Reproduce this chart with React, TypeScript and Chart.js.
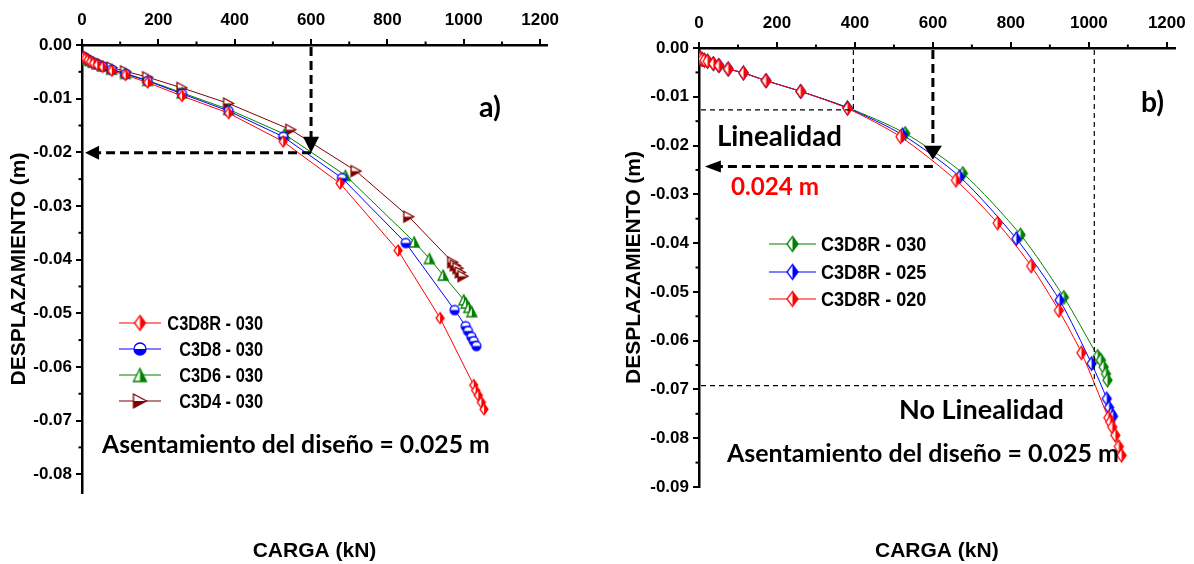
import React, { useEffect, useRef } from 'react';
import { Chart, registerables } from 'chart.js';

Chart.register(...registerables);

// ---------- shared ticks ----------
const xTickValues = [0, 200, 400, 600, 800, 1000, 1200];
const yTickValuesA = [0, -0.01, -0.02, -0.03, -0.04, -0.05, -0.06, -0.07, -0.08];
const yTickValuesB = [0, -0.01, -0.02, -0.03, -0.04, -0.05, -0.06, -0.07, -0.08, -0.09];

const xTitle = 'CARGA (kN)';
const yTitle = 'DESPLAZAMIENTO (m)';

// ---------- panel a) ----------
const seriesNamesA = ['C3D8R - 030', 'C3D8 - 030', 'C3D6 - 030', 'C3D4 - 030'];
const loadA_C3D8R = [4, 9, 15, 22, 30, 40, 54, 78, 114, 172, 262, 384, 527, 676, 828, 938, 1026, 1031, 1038, 1046, 1053];
const dispA_C3D8R = [-0.0023, -0.0025, -0.0028, -0.0031, -0.0034, -0.0037, -0.0041, -0.0048, -0.0056, -0.0070, -0.0095, -0.0127, -0.0180, -0.0258, -0.0383, -0.0509, -0.0634, -0.0644, -0.0653, -0.0666, -0.0679];
const loadA_C3D8 = [4, 9, 15, 22, 30, 40, 54, 78, 114, 172, 262, 384, 527, 681, 848, 976, 1005, 1011, 1020, 1026, 1033];
const dispA_C3D8 = [-0.0022, -0.0024, -0.0027, -0.0030, -0.0033, -0.0036, -0.0040, -0.0046, -0.0054, -0.0067, -0.0091, -0.0123, -0.0171, -0.0248, -0.0369, -0.0494, -0.0524, -0.0533, -0.0544, -0.0552, -0.0561];
const loadA_C3D6 = [4, 9, 15, 22, 30, 40, 54, 78, 114, 172, 262, 384, 530, 690, 870, 910, 946, 1000, 1006, 1013, 1021];
const dispA_C3D6 = [-0.0022, -0.0024, -0.0027, -0.0029, -0.0032, -0.0035, -0.0039, -0.0045, -0.0053, -0.0066, -0.0089, -0.0120, -0.0166, -0.0243, -0.0367, -0.0398, -0.0429, -0.0475, -0.0481, -0.0489, -0.0497];
const loadA_C3D4 = [4, 9, 15, 22, 30, 40, 54, 78, 114, 172, 262, 384, 547, 718, 856, 971, 978, 985, 991, 998];
const dispA_C3D4 = [-0.0020, -0.0022, -0.0025, -0.0027, -0.0030, -0.0033, -0.0036, -0.0042, -0.0049, -0.0060, -0.0080, -0.0109, -0.0158, -0.0235, -0.0320, -0.0405, -0.0411, -0.0416, -0.0424, -0.0431];

// ---------- panel b) ----------
const seriesNamesB = ['C3D8R - 030', 'C3D8R - 025', 'C3D8R - 020'];
const loadB_030 = [3, 8, 14, 22, 37, 51, 75, 114, 172, 261, 381, 529, 677, 825, 936, 1023, 1031, 1038, 1044, 1048];
const dispB_030 = [-0.0021, -0.0023, -0.0025, -0.0027, -0.0032, -0.0036, -0.0043, -0.0051, -0.0067, -0.0089, -0.0122, -0.0175, -0.0257, -0.0383, -0.0511, -0.0632, -0.0640, -0.0654, -0.0668, -0.0681];
const loadB_025 = [3, 8, 14, 22, 37, 51, 75, 114, 172, 261, 381, 522, 669, 814, 925, 1007, 1046, 1052, 1058, 1062];
const dispB_025 = [-0.0021, -0.0023, -0.0025, -0.0027, -0.0032, -0.0036, -0.0043, -0.0051, -0.0067, -0.0089, -0.0123, -0.0178, -0.0264, -0.0391, -0.0517, -0.0647, -0.0719, -0.0737, -0.0750, -0.0755];
const loadB_020 = [3, 8, 14, 22, 37, 51, 75, 114, 172, 261, 381, 517, 659, 766, 852, 923, 981, 1050, 1055, 1060, 1068, 1077, 1084];
const dispB_020 = [-0.0021, -0.0023, -0.0025, -0.0027, -0.0032, -0.0036, -0.0043, -0.0051, -0.0067, -0.0089, -0.0124, -0.0182, -0.0271, -0.0359, -0.0447, -0.0538, -0.0625, -0.0758, -0.0767, -0.0777, -0.0794, -0.0817, -0.0835];

// ---------- annotation values ----------
const designLoad = 600;
const designDispA = -0.0201;
const designArrowTipB = -0.0229;
const designDispB = -0.0243;
const linearLimitLoadB = 396;
const linearLimitDispB = -0.0127;
const nonLinearLoadB = 1014;
const nonLinearDispB = -0.0692;
const designText = 'Asentamiento del diseño = 0.025 m';
const linearText = 'Linealidad';
const nonLinearText = 'No Linealidad';
const readText = '0.024 m';

const NARROW = '"Liberation Sans Narrow", "Arial Narrow", "Liberation Sans", sans-serif';
const SANS = '"Liberation Sans", Arial, sans-serif';
const CAL = 'Lato, "Open Sans", sans-serif';

function makeMarker(shape: string, half: string, color: string, w: number, h: number) {
  const c = document.createElement('canvas');
  const pad = 2;
  c.width = Math.ceil(w + pad * 2);
  c.height = Math.ceil(h + pad * 2);
  const ctx = c.getContext('2d')!;
  ctx.translate(c.width / 2, c.height / 2);
  const p = new Path2D();
  if (shape === 'diamond') {
    p.moveTo(0, -h / 2); p.lineTo(w / 2, 0); p.lineTo(0, h / 2); p.lineTo(-w / 2, 0); p.closePath();
  } else if (shape === 'circle') {
    p.arc(0, 0, w / 2, 0, Math.PI * 2);
  } else if (shape === 'triUp') {
    p.moveTo(0, -h / 2); p.lineTo(w / 2, h / 2); p.lineTo(-w / 2, h / 2); p.closePath();
  } else {
    p.moveTo(w / 2, 0); p.lineTo(-w / 2, h / 2); p.lineTo(-w / 2, -h / 2); p.closePath();
  }
  ctx.fillStyle = '#ffffff';
  ctx.fill(p);
  ctx.save();
  ctx.clip(p);
  ctx.fillStyle = color;
  if (half === 'right') ctx.fillRect(0, -h, w, 2 * h);
  else ctx.fillRect(-w, 0, 2 * w, h);
  ctx.restore();
  ctx.strokeStyle = color;
  ctx.lineWidth = 1.3;
  ctx.stroke(p);
  return c;
}

function toPoints(xs: number[], ys: number[]) {
  return xs.map((x, i) => ({ x, y: ys[i] }));
}

function dashed(ctx: any, x1: number, y1: number, x2: number, y2: number, lw: number, dash: number[]) {
  ctx.save();
  ctx.strokeStyle = '#000';
  ctx.lineWidth = lw;
  ctx.setLineDash(dash);
  ctx.beginPath();
  ctx.moveTo(x1, y1);
  ctx.lineTo(x2, y2);
  ctx.stroke();
  ctx.restore();
}

function arrowHead(ctx: any, tx: number, ty: number, dir: string, len: number, half: number) {
  ctx.save();
  ctx.fillStyle = '#000';
  ctx.beginPath();
  ctx.moveTo(tx, ty);
  if (dir === 'down') { ctx.lineTo(tx - half, ty - len); ctx.lineTo(tx + half, ty - len); }
  else { ctx.lineTo(tx + len, ty - half); ctx.lineTo(tx + len, ty + half); }
  ctx.closePath();
  ctx.fill();
  ctx.restore();
}

function fitText(ctx: any, text: string, x: number, y: number, width: number, family: string, color: string, align = 'left') {
  ctx.save();
  ctx.font = `bold 100px ${family}`;
  const w = ctx.measureText(text).width;
  const size = (100 * width) / w;
  ctx.font = `bold ${size}px ${family}`;
  ctx.fillStyle = color;
  ctx.textAlign = align;
  ctx.textBaseline = 'middle';
  ctx.fillText(text, x, y);
  ctx.restore();
}

function drawMinorTicks(chart: any, yTicks: number[]) {
  const { ctx, chartArea, scales } = chart;
  ctx.save();
  ctx.strokeStyle = '#000';
  ctx.lineWidth = 2;
  for (let i = 0; i < xTickValues.length - 1; i++) {
    const px = scales.x.getPixelForValue((xTickValues[i] + xTickValues[i + 1]) / 2);
    ctx.beginPath(); ctx.moveTo(px, chartArea.top); ctx.lineTo(px, chartArea.top - 3.5); ctx.stroke();
  }
  for (let i = 0; i < yTicks.length - 1; i++) {
    const py = scales.y.getPixelForValue((yTicks[i] + yTicks[i + 1]) / 2);
    ctx.beginPath(); ctx.moveTo(chartArea.left, py); ctx.lineTo(chartArea.left - 3.5, py); ctx.stroke();
  }
  ctx.restore();
}

// legend text is drawn condensed (the original uses a narrow bold face)
function drawLegend(ctx: any, entries: any[], x1: number, x2: number, ys: number[], textX: number, align: string, size: number, squeeze: number) {
  entries.forEach((e, i) => {
    const y = ys[i];
    ctx.save();
    ctx.strokeStyle = e.color;
    ctx.lineWidth = 1.2;
    ctx.beginPath(); ctx.moveTo(x1, y); ctx.lineTo(x2, y); ctx.stroke();
    const m = e.marker;
    ctx.drawImage(m, (x1 + x2) / 2 - m.width / 2, y - m.height / 2);
    ctx.translate(textX, y + 1);
    ctx.scale(squeeze, 1);
    ctx.font = `bold ${size}px ${NARROW}`;
    ctx.fillStyle = '#000';
    ctx.textAlign = align;
    ctx.textBaseline = 'middle';
    ctx.fillText(e.label, 0, 0);
    ctx.restore();
  });
}

function buildOptions(cfg: any) {
  const tickFont = { family: NARROW, size: 17, weight: 'bold' };
  return {
    animation: false,
    responsive: false,
    maintainAspectRatio: false,
    layout: { padding: { left: 0, right: cfg.padRight, top: 0, bottom: 0 } },
    plugins: { legend: { display: false }, tooltip: { enabled: false } },
    scales: {
      x: {
        type: 'linear',
        position: 'top',
        min: 0,
        max: cfg.xMax,
        afterBuildTicks: (s: any) => { s.ticks = xTickValues.map((v) => ({ value: v })); },
        afterFit: (s: any) => { s.height = cfg.topH; },
        grid: { drawOnChartArea: false, drawTicks: true, tickLength: 6, lineWidth: 2, color: '#000', tickColor: '#000' },
        border: { display: true, width: 2.5, color: '#000' },
        ticks: { font: tickFont, color: '#000', padding: 8, maxRotation: 0, autoSkip: false, callback: (v: any) => String(v) },
      },
      y: {
        type: 'linear',
        position: 'left',
        min: cfg.yMin,
        max: 0,
        afterBuildTicks: (s: any) => { s.ticks = cfg.yTicks.map((v: number) => ({ value: v })); },
        afterFit: (s: any) => { s.width = cfg.leftW; },
        grid: { drawOnChartArea: false, drawTicks: true, tickLength: 6, lineWidth: 2, color: '#000', tickColor: '#000' },
        border: { display: true, width: 2.5, color: '#000' },
        ticks: {
          font: tickFont, color: '#000', padding: 4, autoSkip: false,
          callback: (v: any) => (Math.abs(v) < 1e-9 ? '0.00' : Number(v).toFixed(2)),
        },
        title: { display: true, text: yTitle, color: '#000', font: { family: SANS, size: 21, weight: 'bold' }, padding: { top: cfg.yTitlePad, bottom: 0 } },
      },
      x2: {
        type: 'linear',
        position: 'bottom',
        afterFit: (s: any) => { s.height = cfg.bottomH; },
        grid: { display: false, drawTicks: false },
        border: { display: false },
        ticks: { display: false },
        title: { display: true, text: xTitle, color: '#000', font: { family: NARROW, size: 21, weight: 'bold' }, padding: { top: 0, bottom: 0 } },
      },
    },
  };
}

function PanelA() {
  const ref = useRef<HTMLCanvasElement>(null);
  useEffect(() => {
    const red = makeMarker('diamond', 'right', '#ff0000', 8, 11);
    const blue = makeMarker('circle', 'bottom', '#0000ff', 9, 9);
    const green = makeMarker('triUp', 'right', '#008000', 10, 10);
    const brown = makeMarker('triRight', 'bottom', '#800000', 10, 11);
    const redL = makeMarker('diamond', 'right', '#ff0000', 11, 15);
    const blueL = makeMarker('circle', 'bottom', '#0000ff', 12, 12);
    const greenL = makeMarker('triUp', 'right', '#008000', 13, 13);
    const brownL = makeMarker('triRight', 'bottom', '#800000', 13, 14);
    const ds = (label: string, xs: number[], ys: number[], color: string, marker: any) => ({
      label, data: toPoints(xs, ys), borderColor: color, backgroundColor: color, borderWidth: 1,
      showLine: true, tension: 0, pointStyle: marker, pointRadius: 5, xAxisID: 'x', yAxisID: 'y',
    });
    const annot = {
      id: 'annotA',
      afterDraw(chart: any) {
        const { ctx, scales } = chart;
        drawMinorTicks(chart, yTickValuesA);
        const x = scales.x, y = scales.y;
        const px = x.getPixelForValue(designLoad);
        const py = y.getPixelForValue(designDispA);
        const top = y.getPixelForValue(0);
        dashed(ctx, px, top + 2, px, py - 15, 3, [9, 5]);
        arrowHead(ctx, px, py, 'down', 16, 8);
        const lx = x.getPixelForValue(8);
        dashed(ctx, px, py, lx + 14, py, 3, [9, 5]);
        arrowHead(ctx, lx, py, 'left', 14, 7);
        fitText(ctx, designText, 102, 445, 388, CAL, '#000');
        fitText(ctx, 'a)', 479, 108, 22, CAL, '#000');
        drawLegend(ctx, [
          { label: seriesNamesA[0], color: '#ff0000', marker: redL },
          { label: seriesNamesA[1], color: '#0000ff', marker: blueL },
          { label: seriesNamesA[2], color: '#008000', marker: greenL },
          { label: seriesNamesA[3], color: '#800000', marker: brownL },
        ], 119, 161, [323, 349, 375, 401], 263, 'right', 20, 0.82);
      },
    };
    const chart = new Chart(ref.current!, {
      type: 'scatter',
      data: {
        datasets: [
          ds(seriesNamesA[0], loadA_C3D8R, dispA_C3D8R, '#ff0000', red),
          ds(seriesNamesA[1], loadA_C3D8, dispA_C3D8, '#0000ff', blue),
          ds(seriesNamesA[2], loadA_C3D6, dispA_C3D6, '#008000', green),
          ds(seriesNamesA[3], loadA_C3D4, dispA_C3D4, '#800000', brown),
        ],
      },
      options: buildOptions({ padRight: 50, xMax: 1218, yMin: -0.0835, yTicks: yTickValuesA, topH: 45, leftW: 82, bottomH: 71, yTitlePad: 7 }) as any,
      plugins: [annot],
    });
    return () => chart.destroy();
  }, []);
  return <canvas ref={ref} width={597} height={564} style={{ position: 'absolute', left: 0, top: 0, width: 597, height: 564 }} />;
}

function PanelB() {
  const ref = useRef<HTMLCanvasElement>(null);
  useEffect(() => {
    const g = makeMarker('diamond', 'right', '#008000', 9, 13);
    const b = makeMarker('diamond', 'right', '#0000ff', 9, 13);
    const r = makeMarker('diamond', 'right', '#ff0000', 9, 13);
    const gL = makeMarker('diamond', 'right', '#008000', 11, 15);
    const bL = makeMarker('diamond', 'right', '#0000ff', 11, 15);
    const rL = makeMarker('diamond', 'right', '#ff0000', 11, 15);
    const ds = (label: string, xs: number[], ys: number[], color: string, marker: any, order: number) => ({
      label, data: toPoints(xs, ys), borderColor: color, backgroundColor: color, borderWidth: 1,
      showLine: true, tension: 0.25, pointStyle: marker, pointRadius: 5, order, xAxisID: 'x', yAxisID: 'y',
    });
    const annot = {
      id: 'annotB',
      afterDraw(chart: any) {
        const { ctx, scales } = chart;
        drawMinorTicks(chart, yTickValuesB);
        const x = scales.x, y = scales.y;
        const top = y.getPixelForValue(0);
        const left = x.getPixelForValue(0);
        const lx = x.getPixelForValue(linearLimitLoadB);
        const ly = y.getPixelForValue(linearLimitDispB);
        dashed(ctx, left + 2, ly, lx, ly, 1.2, [5, 4]);
        dashed(ctx, lx, top + 2, lx, ly, 1.2, [5, 4]);
        const nx = x.getPixelForValue(nonLinearLoadB);
        const ny = y.getPixelForValue(nonLinearDispB);
        dashed(ctx, left + 2, ny, nx, ny, 1.2, [5, 4]);
        dashed(ctx, nx, top + 2, nx, ny, 1.2, [5, 4]);
        const px = x.getPixelForValue(designLoad);
        const tipY = y.getPixelForValue(designArrowTipB);
        const hy = y.getPixelForValue(designDispB);
        dashed(ctx, px, top + 2, px, tipY - 13, 3, [9, 5]);
        arrowHead(ctx, px, tipY, 'down', 14, 9);
        const ax = x.getPixelForValue(15);
        dashed(ctx, px, hy, ax + 15, hy, 3, [9, 5]);
        arrowHead(ctx, ax, hy, 'left', 16, 6);
        fitText(ctx, linearText, 120, 137, 125, CAL, '#000');
        fitText(ctx, readText, 134, 187, 88, CAL, '#ff0000');
        fitText(ctx, nonLinearText, 302, 410, 165, CAL, '#000');
        fitText(ctx, designText, 130, 454, 392, CAL, '#000');
        fitText(ctx, 'b)', 544, 103, 23, CAL, '#000');
        drawLegend(ctx, [
          { label: seriesNamesB[0], color: '#008000', marker: gL },
          { label: seriesNamesB[1], color: '#0000ff', marker: bL },
          { label: seriesNamesB[2], color: '#ff0000', marker: rL },
        ], 172, 219, [244, 272, 299], 224, 'left', 21, 0.86);
      },
    };
    const chart = new Chart(ref.current!, {
      type: 'scatter',
      data: {
        datasets: [
          ds(seriesNamesB[0], loadB_030, dispB_030, '#008000', g, 2),
          ds(seriesNamesB[1], loadB_025, dispB_025, '#0000ff', b, 1),
          ds(seriesNamesB[2], loadB_020, dispB_020, '#ff0000', r, 0),
        ],
      },
      options: buildOptions({ padRight: 17, xMax: 1220, yMin: -0.09, yTicks: yTickValuesB, topH: 48, leftW: 102, bottomH: 77, yTitlePad: 25 }) as any,
      plugins: [annot],
    });
    return () => chart.destroy();
  }, []);
  return <canvas ref={ref} width={597} height={564} style={{ position: 'absolute', left: 597, top: 0, width: 597, height: 564 }} />;
}

export default function App() {
  return (
    <div style={{ position: 'absolute', left: 0, top: 0, width: 1194, height: 564, background: '#ffffff', overflow: 'hidden' }}>
      <PanelA />
      <PanelB />
    </div>
  );
}
